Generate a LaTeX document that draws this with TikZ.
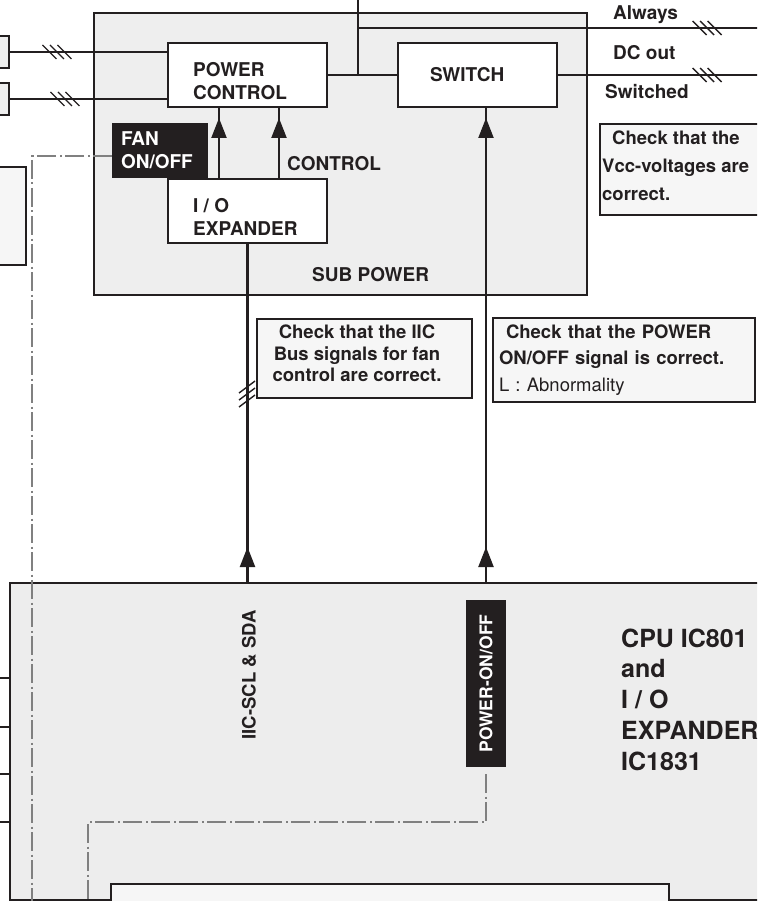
\documentclass[tikz,border=0pt]{standalone}
\usepackage{fontspec}
\setmainfont{TeX Gyre Heros}
\usetikzlibrary{positioning, calc, arrows.meta, decorations.markings}

\definecolor{ink}{HTML}{231F20}
\definecolor{subgray}{HTML}{EEEEEE}
\definecolor{notegray}{HTML}{F6F6F6}
\definecolor{cpugray}{HTML}{EDEDED}
\definecolor{siggray}{HTML}{808080}

% three slashes across a bus line
\newcommand{\hbus}[1]{%
  \foreach \d in {-7.5, 0, 7.5}
  \draw  [slash]  ($(#1) + (\d-7, -7)$)  --  ($(#1) + (\d+7, 7)$);
}
\newcommand{\vbus}[1]{%
  \foreach \d in {-7, 0, 7}
  \draw  [slash]  ($(#1) + (-8, \d+6)$)  --  ($(#1) + (8, \d-6)$);
}

\begin{document}
\begin{tikzpicture}[
    x = 1pt, y = -1pt, > = {Triangle[length=20pt, width=15pt]},
    block/.style = {
      rectangle, draw = ink, line width = 2.2pt, fill = white,
      inner sep = 0pt, outer sep = 0pt, minimum width = 159pt, minimum height = 64pt
    },
    subbox/.style = {
      rectangle, draw = ink, line width = 2.2pt, fill = subgray, inner sep = 0pt, outer sep = 0pt
    },
    inbox/.style = {
      rectangle, draw = ink, line width = 2.2pt, fill = subgray, inner sep = 0pt,
      outer sep = 0pt, minimum width = 20pt, minimum height = 32pt
    },
    note/.style = {
      rectangle, draw = ink, line width = 1.6pt, fill = notegray, inner sep = 0pt, outer sep = 0pt
    },
    tag/.style = {
      rectangle, fill = ink, text = white, inner sep = 0pt, outer sep = 0pt,
      font = \bfseries\fontsize{19}{23}\selectfont
    },
    lbl/.style = {
      inner sep = 0pt, text = ink, font = \bfseries\fontsize{19}{23}\selectfont
    },
    notetext/.style = {
      inner sep = 0pt, text = ink, font = \bfseries\fontsize{18.5}{21.5}\selectfont
    },
    wire/.style = {draw = ink, line width = 2.2pt},
    slash/.style = {draw = ink, line width = 1.4pt},
    sigline/.style = {
      draw = siggray, line width = 2.6pt, dash pattern = on 19pt off 3.5pt on 2pt off 3.5pt
    },
    % arrow head somewhere along a line
    tipat/.style = {
      postaction = {
        decorate, decoration = {
          markings,
          mark = at position #1 with {\arrow{>}}
        }
      }
    },
    ]

    \clip  (0, 0)  rectangle  (757, 901);

    % draw sub power
    \node  [subbox, anchor = north west, minimum width = 493pt, minimum height = 282pt]  (sub)  at (94, 13)  {};
    \node  [inbox, anchor = north east]  (in1)  at (9, 36)  {};
    \node  [inbox]  (in2)  [below = 15pt of in1]  {};
    \node  [inbox, fill = notegray, anchor = north east, minimum width = 40pt, minimum height = 98pt]  (in3)  at (26, 167)  {};

    \node  [block, anchor = north west]  (pwrctl)  at (168, 43)  {};
    \node  [block, lbl, align = left, text width = 95pt, inner xsep = 32pt]  (switch)  [right = 71pt of pwrctl]  {SWITCH};
    \node  [block]  (io)  [below = 72pt of pwrctl]  {};

    \node  [lbl, anchor = west, align = left]  (pctext)  at ([xshift = 25pt, yshift = -6pt]pwrctl.west)  {POWER\\CONTROL};
    \node  [lbl, anchor = west, align = left]  (iotext)  at ([xshift = 25pt, yshift = -5.5pt]io.west)  {I / O\\EXPANDER};
    \node  [lbl, anchor = base west]  (ctrl)  at (287, 170.7)  {CONTROL};
    \node  [lbl, anchor = base west]  (subtext)  at (312, 281.7)  {SUB POWER};

    % draw wires
    \foreach \n in {1, 2}
    \draw  [wire]  (in\n.east)  --  (in\n.east -| pwrctl.west);
    \hbus{57, 52}
    \hbus{65, 99}

    \coordinate  (feed)  at (358, 0);
    \coordinate  (always)  at (760, 28);
    \coordinate  (dcout)  at (760, 75);
    \draw  [wire]  (pwrctl.east)  --  (switch.west);
    \draw  [wire]  (feed)  --  (feed |- pwrctl.east);
    \draw  [wire]  (feed |- always)  --  (always);
    \draw  [wire]  (switch.east)  --  (dcout);
    \hbus{707, 28}
    \hbus{707, 75}

    \node  [lbl, anchor = base west]  (lalways)  at (613, 19.7)  {Always};
    \node  [lbl, anchor = base west]  (ldcout)  at (613, 59.7)  {DC out};
    \node  [lbl, anchor = base west]  (lswitched)  at (605, 98.7)  {Switched};

    \foreach \dx in {51, 111}
    \draw  [wire, tipat = -11pt]  ([xshift = \dx]io.north west)  --  ([xshift = \dx]pwrctl.south west);

    \node  [tag, anchor = north west, align = left, text width = 78pt, inner xsep = 9pt, minimum height = 55pt]  (fan)  at (112, 123)  {FAN\\ON/OFF};

    % draw notes
    \node  [note, anchor = north west, minimum width = 180pt, minimum height = 91pt]  (vccnote)  at (600, 124)  {};
    \node  [notetext, anchor = west, align = left, font = \bfseries\fontsize{18.5}{28}\selectfont]  (vcctext)  at (602, 166)
      {\hspace*{10pt}Check that the\\Vcc-voltages are\\correct.};

    \node  [note, anchor = north west, minimum width = 215pt, minimum height = 79pt]  (iicnote)  at (257, 319)  {};
    \node  [notetext, align = center]  (iictext)  at (357, 353.5)
      {Check that the IIC\\Bus signals for fan\\control are correct.};

    \node  [note, notetext, anchor = north west, minimum width = 262pt, minimum height = 84pt,
      text width = 250pt, inner xsep = 6pt, align = left, font = \bfseries\fontsize{18.5}{26.5}\selectfont]  (pwrnote)  at (493, 318)
      {\hspace*{7pt}Check that the POWER\\ON/OFF signal is correct.\\\mdseries L : Abnormality};

    % draw cpu board
    \node  [subbox, fill = cpugray, anchor = north west, minimum width = 790pt, minimum height = 317pt]  (cpu)  at (10, 583)  {};
    \filldraw  [wire, fill = notegray]  (111, 904)  --  (111, 884)  --  (669, 884)  --  (669, 904);
    \foreach \y in {678, 727, 774, 822} {
      \coordinate  (lead\y)  at (0, \y);
      \draw  [wire]  (lead\y)  --  (lead\y -| cpu.west);
    }

    \node  [tag, rotate = 90, minimum width = 167pt, minimum height = 40pt,
      font = \bfseries\fontsize{17.5}{21}\selectfont]  (pwroff)  at (486, 683.5)  {POWER-ON/OFF};
    \node  [notetext, rotate = 90]  (iiclbl)  at (249, 675)  {IIC-SCL \& SDA};
    \node  [lbl, anchor = west, align = left, font = \bfseries\fontsize{25}{30.75}\selectfont]  (cputext)  at (621, 699.5)
      {CPU IC801\\and\\I / O\\EXPANDER\\IC1831};

    % draw signal paths
    \draw  [wire, tipat = 36pt]  (io.south |- cpu.north)  --  (io.south);
    \vbus{247, 394}
    \draw  [wire, tipat = 36pt, tipat = -11pt]  (pwroff.center |- cpu.north)  --  (pwroff.center |- switch.south);

    \coordinate  (sigL)  at (32, 905);
    \coordinate  (sigB)  at (88, 822);
    \coordinate  (sigE)  at (88, 905);
    \draw  [sigline]  ([yshift = -5.5pt]fan.west)  -|  (sigL);
    \draw  [sigline]  ([yshift = -7pt]pwroff.west)  |-  (sigB)  --  (sigE);
\end{tikzpicture}
\end{document}
